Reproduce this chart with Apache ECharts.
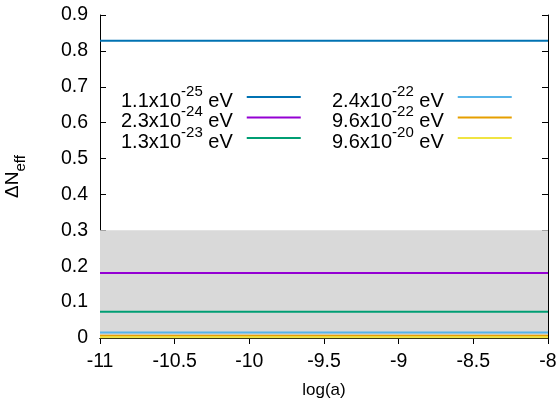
<!DOCTYPE html>
<html>
<head>
<meta charset="utf-8">
<script src="https://cdn.jsdelivr.net/npm/echarts@6/dist/echarts.min.js"></script>
<style>
  html, body { margin: 0; padding: 0; background: #fff; }
  #chart { width: 557px; height: 400px; }
</style>
</head>
<body>
<div id="chart"></div>
<script>
// x range of the curves (log a)
const xRange = [-11, -8];
// masses: mantissa and exponent, shown as "m x 10^e eV"
const mantissas = ['1.1', '2.3', '1.3', '2.4', '9.6', '9.6'];
const exponents = ['-25', '-24', '-23', '-22', '-22', '-20'];
// Delta N_eff for each mass (flat over log a)
const deltaNeff = [0.828, 0.181, 0.073, 0.015, 0.006, 0.002];
const lineColors = ['#0072b2', '#9400d3', '#009e73', '#56b4e9', '#e69f00', '#f0e442'];
// shaded excluded region upper edge
const bandTop = 0.3;
const xTicks = [-11, -10.5, -10, -9.5, -9, -8.5, -8];
const yTicks = [0, 0.1, 0.2, 0.3, 0.4, 0.5, 0.6, 0.7, 0.8, 0.9];

const names = mantissas.map((m, i) => m + 'x10^' + exponents[i] + ' eV');
const font = 'Liberation Sans';

const series = [{
  name: 'band',
  type: 'line',
  data: xRange.map(x => [x, bandTop]),
  symbol: 'none',
  lineStyle: { width: 0 },
  areaStyle: { color: '#d9d9d9', opacity: 1 },
  itemStyle: { color: '#d9d9d9' },
  silent: true,
  z: 1
}];
names.forEach((n, i) => {
  series.push({
    name: n,
    type: 'line',
    data: xRange.map(x => [x, deltaNeff[i]]),
    symbol: 'none',
    lineStyle: { width: 2, color: lineColors[i] },
    itemStyle: { color: lineColors[i] },
    z: 3
  });
});

// superscript: tokens are middle aligned, so uneven padding moves them up/down
const legendRich = {
  t: { fontSize: 20, fontFamily: font, color: '#000', padding: [8, 0, 0, 0] },
  s: { fontSize: 15, fontFamily: font, color: '#000', padding: [0, 0, 11, 0] }
};
const legendFmt = name => {
  const i = names.indexOf(name);
  return '{t|' + mantissas[i] + 'x10}{s|' + exponents[i] + '}{t| eV}';
};
const makeLegend = (data, left) => ({
  data: data,
  orient: 'vertical',
  left: left,
  top: 84,
  padding: 0,
  align: 'right',
  icon: 'rect',
  itemWidth: 54,
  itemHeight: 2,
  itemGap: -6.5,
  formatter: legendFmt,
  textStyle: { rich: legendRich, padding: [0, 9, 0, 0] },
  inactiveColor: '#ccc'
});

const tickText = { color: '#000', fontSize: 19.5, fontFamily: font };
const tickStyle = { inside: true, length: 6, lineStyle: { color: '#000', width: 1 } };

const chart = echarts.init(document.getElementById('chart'));
chart.setOption({
  animation: false,
  backgroundColor: '#fff',
  grid: { left: 100, right: 9, top: 15, bottom: 62, containLabel: false, outerBoundsMode: 'none' },
  legend: [makeLegend(names.slice(0, 3), 121), makeLegend(names.slice(3), 332)],
  xAxis: [{
    type: 'value',
    min: xTicks[0],
    max: xTicks[xTicks.length - 1],
    interval: 0.5,
    name: 'log(a)',
    nameLocation: 'middle',
    nameGap: 44,
    nameTextStyle: { color: '#000', fontSize: 17, fontFamily: font },
    axisLine: { lineStyle: { color: '#000', width: 1 } },
    axisTick: tickStyle,
    axisLabel: { ...tickText, margin: 14 },
    splitLine: { show: false }
  }, {
    type: 'value',
    position: 'top',
    min: xTicks[0],
    max: xTicks[xTicks.length - 1],
    interval: 0.5,
    axisLine: { lineStyle: { color: '#000', width: 1 } },
    axisTick: tickStyle,
    axisLabel: { show: false },
    splitLine: { show: false }
  }],
  yAxis: [{
    type: 'value',
    min: yTicks[0],
    max: yTicks[yTicks.length - 1],
    interval: 0.1,
    name: '{n|ΔN}{b|eff}',
    nameLocation: 'middle',
    nameGap: 72,
    nameRotate: 90,
    nameTextStyle: {
      rich: {
        n: { fontSize: 19, fontFamily: font, color: '#000' },
        b: { fontSize: 15, fontFamily: font, color: '#000', padding: [16, 0, 0, 0] }
      }
    },
    axisLine: { show: true, lineStyle: { color: '#000', width: 1 } },
    axisTick: tickStyle,
    axisLabel: { ...tickText, margin: 12, formatter: v => String(+v.toFixed(1)) },
    splitLine: { show: false }
  }, {
    type: 'value',
    position: 'right',
    min: yTicks[0],
    max: yTicks[yTicks.length - 1],
    interval: 0.1,
    axisLine: { show: true, lineStyle: { color: '#000', width: 1 } },
    axisTick: tickStyle,
    axisLabel: { show: false },
    splitLine: { show: false }
  }],
  series: series
});
</script>
</body>
</html>
